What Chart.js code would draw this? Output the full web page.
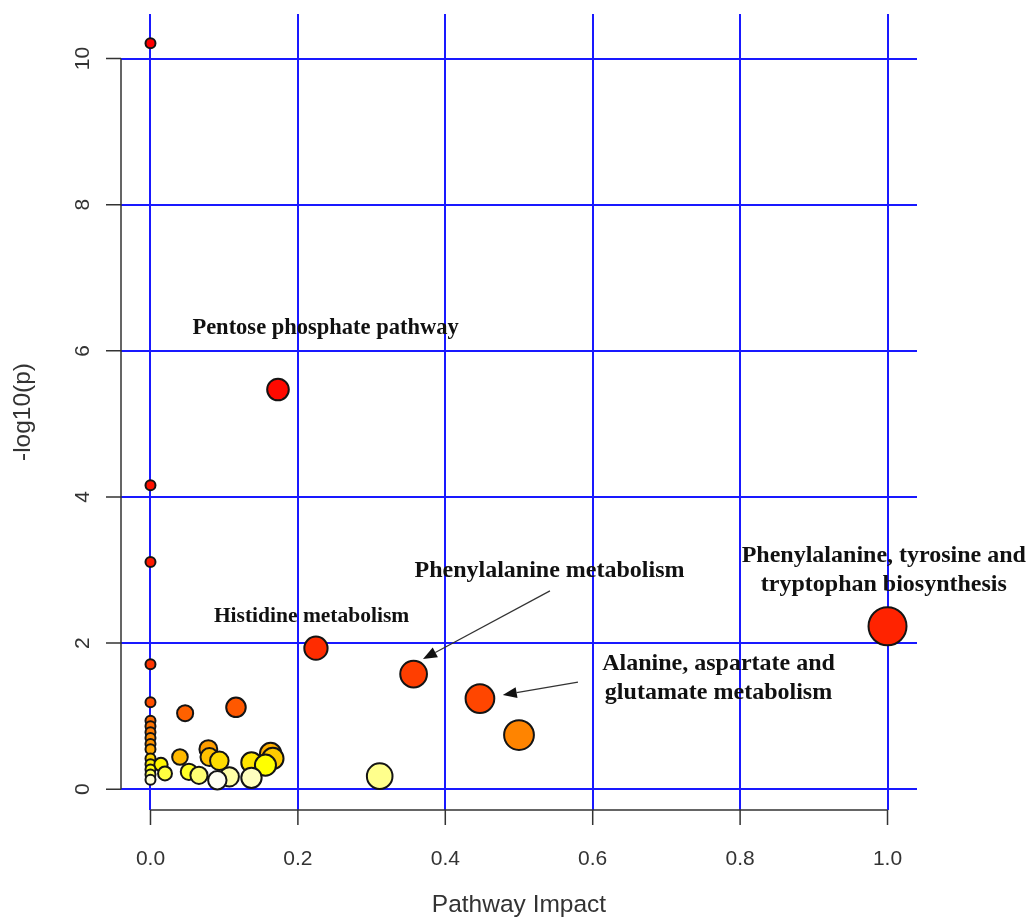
<!DOCTYPE html>
<html>
<head>
<meta charset="utf-8">
<title>Pathway Impact</title>
<script src="https://cdn.jsdelivr.net/npm/chart.js@4.4.1/dist/chart.umd.min.js"></script>
<style>
  html, body { margin: 0; padding: 0; background: #fff; }
  #wrap { width: 1035px; height: 919px; }
</style>
</head>
<body>
<div id="wrap"><canvas id="chart" width="1035" height="919"></canvas></div>
<script>
// pathway impact (x) and -log10(p) (y), ordered by p-value
const impact = [
  0, 0.173, 0, 0, 1.0, 0.2245, 0, 0.357, 0.447, 0,
  0.116, 0.047, 0, 0, 0.5, 0, 0, 0.0785, 0.163, 0,
  0.04, 0.08, 0.166, 0, 0.0934, 0.137, 0.0142, 0.156, 0, 0,
  0.0522, 0.0197, 0, 0.0658, 0.311, 0.107, 0.137, 0, 0.0907, 0
];
const logP = [
  10.21, 5.47, 4.16, 3.11, 2.23, 1.93, 1.71, 1.575, 1.24, 1.19,
  1.12, 1.04, 0.935, 0.86, 0.74, 0.78, 0.70, 0.548, 0.489, 0.62,
  0.44, 0.44, 0.42, 0.545, 0.388, 0.366, 0.338, 0.329, 0.42, 0.34,
  0.237, 0.215, 0.27, 0.19, 0.178, 0.169, 0.155, 0.20, 0.123, 0.13
];
const xTicks = [0, 0.2, 0.4, 0.6, 0.8, 1.0];
const xTickLabels = ['0.0', '0.2', '0.4', '0.6', '0.8', '1.0'];
const yTicks = [0, 2, 4, 6, 8, 10];
const yTickLabels = ['0', '2', '4', '6', '8', '10'];

const pathwayLabels = [
  { lines: ['Pentose phosphate pathway'], x: 0.2375, y: 6.23, size: 22.5 },
  { lines: ['Histidine metabolism'], x: 0.2185, y: 2.29, size: 21.5 },
  { lines: ['Phenylalanine metabolism'], x: 0.5414, y: 2.91, size: 24 },
  { lines: ['Phenylalanine, tyrosine and', 'tryptophan biosynthesis'], x: 0.995, y: 3.11, size: 24 },
  { lines: ['Alanine, aspartate and', 'glutamate metabolism'], x: 0.7707, y: 1.63, size: 24 },
];
const arrows = [
  { from: [0.542, 2.714], to: [0.3697, 1.781] },
  { from: [0.580, 1.466], to: [0.478, 1.288] },
];

// R heat.colors(n), assigned by p-value rank
function heatColors(n) {
  const j = Math.floor(n / 4);
  const i = n - j;
  const out = [];
  for (let k = 0; k < i; k++) {
    const h = i > 1 ? k / (i - 1) : 0; // 0..1 of the red->yellow span
    out.push(`rgb(255,${Math.round(255 * h)},0)`);
  }
  for (let k = 0; k < j; k++) {
    const s = j > 1 ? (1 - 1 / (2 * j)) - k * ((1 - 1 / j) / (j - 1)) : 0.5;
    out.push(`rgb(255,255,${Math.round(255 * (1 - s))})`);
  }
  return out;
}

const points = impact.map((v, i) => ({ x: v, y: logP[i] }));
const order = points.map((p, i) => i).sort((a, b) => points[b].y - points[a].y);
const palette = heatColors(points.length);
const sortedPoints = order.map((i) => points[i]);
const pointColors = order.map((_, r) => palette[r]);

const bubbleRadius = (c) => 5 + 14 * Math.sqrt(Math.abs(c.raw.x));

const rDecor = {
  id: 'rDecor',
  afterDraw(chart) {
    const { ctx, scales: { x, y } } = chart;
    ctx.save();

    // axes, R style
    ctx.strokeStyle = '#333';
    ctx.lineWidth = 1.5;
    ctx.beginPath();
    ctx.moveTo(x.left, y.getPixelForValue(yTicks[0]));
    ctx.lineTo(x.left, y.getPixelForValue(yTicks[yTicks.length - 1]));
    yTicks.forEach((v) => {
      const py = y.getPixelForValue(v);
      ctx.moveTo(x.left, py);
      ctx.lineTo(x.left - 15, py);
    });
    ctx.moveTo(x.getPixelForValue(xTicks[0]), y.bottom);
    ctx.lineTo(x.getPixelForValue(xTicks[xTicks.length - 1]), y.bottom);
    xTicks.forEach((v) => {
      const px = x.getPixelForValue(v);
      ctx.moveTo(px, y.bottom);
      ctx.lineTo(px, y.bottom + 15);
    });
    ctx.stroke();

    ctx.fillStyle = '#333';
    ctx.textAlign = 'center';
    ctx.textBaseline = 'alphabetic';
    ctx.font = '21px "Liberation Sans", Arial, sans-serif';
    xTicks.forEach((v, i) => ctx.fillText(xTickLabels[i], x.getPixelForValue(v), y.bottom + 55));
    yTicks.forEach((v, i) => {
      ctx.save();
      ctx.translate(x.left - 32, y.getPixelForValue(v));
      ctx.rotate(-Math.PI / 2);
      ctx.fillText(yTickLabels[i], 0, 0);
      ctx.restore();
    });

    ctx.font = '24.5px "Liberation Sans", Arial, sans-serif';
    ctx.fillText('Pathway Impact', (x.left + x.right) / 2, y.bottom + 102);
    ctx.save();
    ctx.translate(x.left - 91, (y.top + y.bottom) / 2);
    ctx.rotate(-Math.PI / 2);
    ctx.fillText('-log10(p)', 0, 0);
    ctx.restore();

    // pathway names
    ctx.fillStyle = '#111';
    pathwayLabels.forEach((lab) => {
      ctx.font = `bold ${lab.size}px "Liberation Serif", "Times New Roman", serif`;
      const px = x.getPixelForValue(lab.x);
      const py = y.getPixelForValue(lab.y);
      lab.lines.forEach((t, k) => ctx.fillText(t, px, py + k * 29));
    });

    // arrows
    ctx.strokeStyle = '#333';
    ctx.lineWidth = 1.2;
    arrows.forEach((a) => {
      const x0 = x.getPixelForValue(a.from[0]);
      const y0 = y.getPixelForValue(a.from[1]);
      const x1 = x.getPixelForValue(a.to[0]);
      const y1 = y.getPixelForValue(a.to[1]);
      const ang = Math.atan2(y1 - y0, x1 - x0);
      const len = 14;
      const hw = 5.5;
      const bx = x1 - len * Math.cos(ang);
      const by = y1 - len * Math.sin(ang);
      ctx.beginPath();
      ctx.moveTo(x0, y0);
      ctx.lineTo(bx, by);
      ctx.stroke();
      ctx.beginPath();
      ctx.moveTo(x1, y1);
      ctx.lineTo(bx + hw * Math.sin(ang), by - hw * Math.cos(ang));
      ctx.lineTo(bx - hw * Math.sin(ang), by + hw * Math.cos(ang));
      ctx.closePath();
      ctx.fillStyle = '#111';
      ctx.fill();
    });

    ctx.restore();
  }
};

const gridStyle = {
  color: 'rgb(25,25,255)',
  lineWidth: 2,
  drawTicks: false,
};

new Chart(document.getElementById('chart'), {
  type: 'scatter',
  data: {
    datasets: [{
      data: sortedPoints,
      backgroundColor: pointColors,
      borderColor: '#141414',
      borderWidth: 2,
      pointRadius: bubbleRadius,
      pointHoverRadius: bubbleRadius,
      clip: false,
    }],
  },
  options: {
    responsive: false,
    animation: false,
    layout: { autoPadding: false, padding: { left: 121, right: 118, top: 14, bottom: 109 } },
    plugins: { legend: { display: false }, tooltip: { enabled: false } },
    scales: {
      x: {
        type: 'linear',
        min: -0.04,
        max: 1.04,
        grid: gridStyle,
        border: { display: false },
        ticks: { display: false },
        afterBuildTicks: (axis) => { axis.ticks = xTicks.map((v) => ({ value: v })); },
      },
      y: {
        type: 'linear',
        min: -0.285,
        max: 10.61,
        grid: gridStyle,
        border: { display: false },
        ticks: { display: false },
        afterBuildTicks: (axis) => { axis.ticks = yTicks.map((v) => ({ value: v })); },
      },
    },
  },
  plugins: [rDecor],
});
</script>
</body>
</html>
